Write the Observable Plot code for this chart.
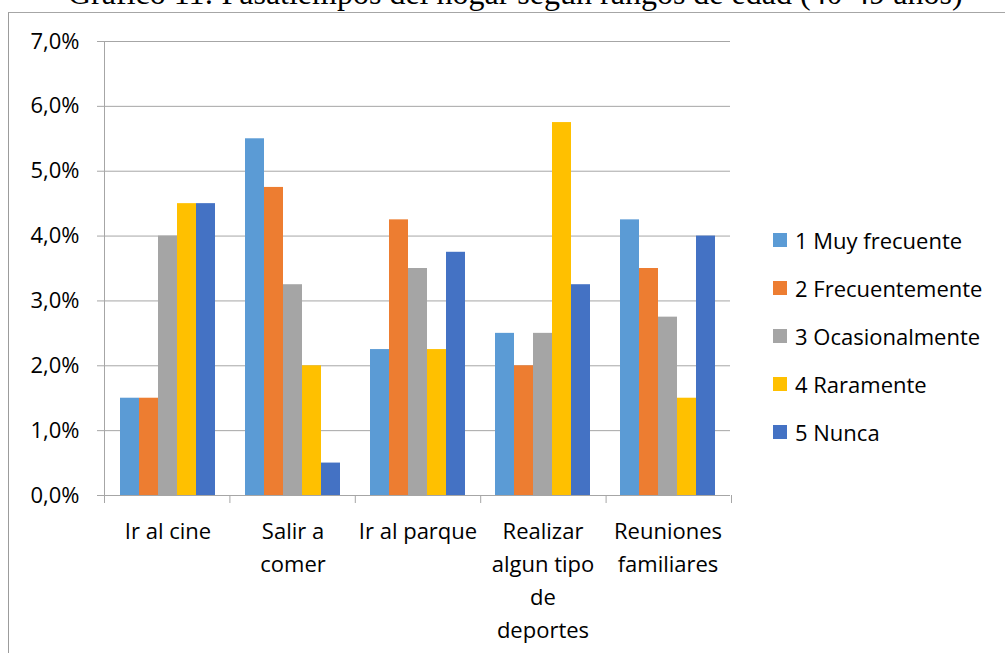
<!DOCTYPE html>
<html>
<head>
<meta charset="utf-8">
<script src="https://cdn.jsdelivr.net/npm/d3@7"></script>
<script src="https://cdn.jsdelivr.net/npm/@observablehq/plot@0.6"></script>
<style>
  html, body { margin: 0; padding: 0; background: #fff; }
  #page { position: relative; width: 1005px; height: 653px; overflow: hidden; background: #fff; }
  #title {
    position: absolute; left: 68px; top: -23px; white-space: nowrap;
    font-family: "Liberation Serif", "Times New Roman", serif; font-size: 32px; line-height: 32px; color: #000;
  }
  #box { position: absolute; left: 8px; top: 12px; width: 1100px; height: 700px;
    border-left: 1px solid #9c9c9c; border-top: 1px solid #a6a6a6; }
  #chart { position: absolute; left: 0; top: 0; }
  #legend { position: absolute; left: 773px; top: 216px; font-family: "Open Sans", sans-serif; font-size: 22px; color: #000; }
  .item { display: flex; align-items: center; height: 48px; }
  .sw { width: 14px; height: 14px; margin-right: 8px; flex: none; }
</style>
</head>
<body>
<div id="page">
  <div id="box"></div>
  <div id="title">Gráfico 11: Pasatiempos del hogar según rangos de edad (40-49 años)</div>
  <div id="chart"></div>
  <div id="legend"></div>
</div>
<script>
// Pastimes by category, share of respondents aged 40-49 (percent)
const categories = ["Ir al cine", "Salir a comer", "Ir al parque", "Realizar algun tipo de deportes", "Reuniones familiares"];
const categoryLabels = ["Ir al cine", "Salir a\ncomer", "Ir al parque", "Realizar\nalgun tipo\nde\ndeportes", "Reuniones\nfamiliares"];
const seriesNames = ["1 Muy frecuente", "2 Frecuentemente", "3 Ocasionalmente", "4 Raramente", "5 Nunca"];
const muyFrecuente   = [1.5, 5.5, 2.25, 2.5, 4.25];
const frecuentemente = [1.5, 4.75, 4.25, 2.0, 3.5];
const ocasionalmente = [4.0, 3.25, 3.5, 2.5, 2.75];
const raramente      = [4.5, 2.0, 2.25, 5.75, 1.5];
const nunca          = [4.5, 0.5, 3.75, 3.25, 4.0];
const seriesColors = ["#5B9BD5", "#ED7D31", "#A5A5A5", "#FFC000", "#4472C4"];
const yTicks = [0, 1, 2, 3, 4, 5, 6, 7];

const seriesValues = [muyFrecuente, frecuentemente, ocasionalmente, raramente, nunca];
const rows = [];
categories.forEach((c, i) => {
  seriesNames.forEach((s, j) => rows.push({category: c, series: s, value: seriesValues[j][i]}));
});

const axisColor = "#a6a6a6";
const font = "Open Sans, sans-serif";
const pct = d => d.toFixed(1).replace(".", ",") + "%";

const chart = Plot.plot({
  width: 740,
  height: 653,
  marginLeft: 104,
  marginRight: 9,
  marginTop: 41,
  marginBottom: 158,
  style: {fontFamily: font, fontSize: "22px", color: "#000", background: "transparent"},
  fx: {domain: categories, padding: 0, axis: null},
  x: {domain: seriesNames, paddingInner: 0, paddingOuter: 0.78, axis: null},
  y: {domain: [0, 7], axis: null},
  color: {domain: seriesNames, range: seriesColors},
  marks: [
    Plot.gridY(yTicks, {stroke: axisColor, strokeOpacity: 1, strokeWidth: 1}),
    Plot.barY(rows, {fx: "category", x: "series", y: "value", fill: "series"}),
    Plot.ruleY([0], {stroke: axisColor, strokeWidth: 1}),
    Plot.axisY(yTicks, {
      tickSize: 8, tickPadding: 18, stroke: axisColor, tickFormat: pct,
      fontSize: 22, fill: "#000", label: null
    }),
    Plot.axisFx({
      anchor: "bottom", tickSize: 0, tickPadding: 20, lineHeight: 1.5,
      tickFormat: c => categoryLabels[categories.indexOf(c)],
      fontSize: 22, fill: "#000", label: null
    })
  ]
});
document.getElementById("chart").appendChild(chart);

// Vertical value-axis line and category boundary ticks, placed from the chart's scales
const fxd = chart.scale("fx");
const yd = chart.scale("y");
const fx = d3.scaleBand(fxd.domain, fxd.range)
  .paddingInner(fxd.paddingInner ?? 0).paddingOuter(fxd.paddingOuter ?? 0).align(fxd.align ?? 0.5);
const y = d3.scaleLinear(yd.domain, yd.range);
const bounds = categories.map(c => fx(c)).concat([fx(categories[categories.length - 1]) + fx.bandwidth()]);
const g = d3.select(chart).append("g").attr("stroke", axisColor).attr("stroke-width", 1);
g.append("line")
  .attr("x1", bounds[0] + 0.5).attr("x2", bounds[0] + 0.5)
  .attr("y1", y(0)).attr("y2", y(7));
g.selectAll("line.cat").data(bounds).join("line").attr("class", "cat")
  .attr("x1", d => d + 0.5).attr("x2", d => d + 0.5)
  .attr("y1", y(0)).attr("y2", y(0) + 8);

// Legend
const legend = d3.select("#legend");
seriesNames.forEach((s, i) => {
  const item = legend.append("div").attr("class", "item");
  item.append("div").attr("class", "sw").style("background", seriesColors[i]);
  item.append("span").text(s);
});
</script>
</body>
</html>
